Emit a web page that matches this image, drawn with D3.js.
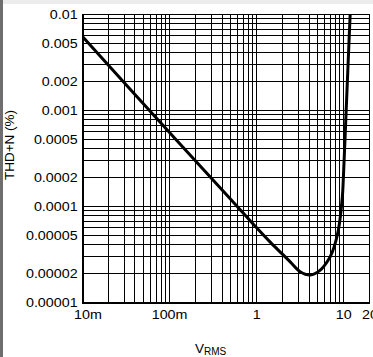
<!DOCTYPE html>
<html>
<head>
<meta charset="utf-8">
<script src="https://cdn.jsdelivr.net/npm/d3@7"></script>
<style>
  html, body { margin: 0; padding: 0; background: #fff; }
  svg { display: block; }
  text { font-family: Arial, "Liberation Sans", sans-serif; fill: #000; }
</style>
</head>
<body>
<script>
// ---- data ----
const xTickValues = [0.01, 0.1, 1, 10, 20];
const xTickLabels = ["10m", "100m", "1", "10", "20"];
const yTickValues = [0.01, 0.005, 0.002, 0.001, 0.0005, 0.0002, 0.0001, 0.00005, 0.00002, 0.00001];
const yTickLabels = ["0.01", "0.005", "0.002", "0.001", "0.0005", "0.0002", "0.0001", "0.00005", "0.00002", "0.00001"];
const vrms = [0.01, 0.1, 0.5, 1.0, 1.45, 2.0, 2.46, 3.2, 4.18, 5.44, 6.73, 7.48, 8.77, 9.75, 10, 10.8, 11.4, 12];
const thdn = [0.0059, 0.00059, 0.00012, 0.00006, 0.000042, 0.0000315, 0.0000262, 0.0000207, 0.0000191, 0.0000215, 0.0000274, 0.0000332, 0.000056, 0.000124, 0.000187, 0.001, 0.0033, 0.01];
const yTitle = "THD+N (%)";

// ---- layout ----
const W = 373, H = 357;
const L = 82, R = 369.5, T = 14, B = 302;

const svg = d3.select("body").append("svg").attr("width", W).attr("height", H);
svg.append("rect").attr("x", 0).attr("y", 0).attr("width", W).attr("height", H).attr("fill", "#fff");
svg.append("rect").attr("x", 0).attr("y", 0).attr("width", W).attr("height", 4).attr("fill", "#ececec");
svg.append("rect").attr("x", 0).attr("y", 0).attr("width", 3).attr("height", H).attr("fill", "#6e6e6e");

const x = d3.scaleLog().domain([0.01, 20]).range([L, R]);
const y = d3.scaleLog().domain([0.00001, 0.01]).range([B, T]);

// grid
const xGrid = [];
[0.01, 0.1, 1].forEach(d => { for (let k = 1; k <= 9; k++) xGrid.push(d * k); });
xGrid.push(10);
const yGrid = [];
[0.00001, 0.0001, 0.001].forEach(d => { for (let k = 1; k <= 9; k++) yGrid.push(d * k); });
yGrid.push(0.01);

const g = svg.append("g").attr("shape-rendering", "crispEdges");
g.selectAll("line.vx").data(xGrid).join("line")
  .attr("x1", d => Math.round(x(d)) + 0.5).attr("x2", d => Math.round(x(d)) + 0.5)
  .attr("y1", T).attr("y2", B)
  .attr("stroke", "#000").attr("stroke-width", 1);
g.selectAll("line.hy").data(yGrid).join("line")
  .attr("y1", d => Math.round(y(d)) + 0.5).attr("y2", d => Math.round(y(d)) + 0.5)
  .attr("x1", L).attr("x2", R)
  .attr("stroke", "#000").attr("stroke-width", 1);
g.append("rect").attr("x", L + 0.5).attr("y", T + 0.5).attr("width", R - L - 1).attr("height", B - T)
  .attr("fill", "none").attr("stroke", "#000").attr("stroke-width", 1);
g.append("line").attr("x1", L).attr("x2", R).attr("y1", B + 0.5).attr("y2", B + 0.5).attr("stroke", "#000").attr("stroke-width", 2);
g.append("line").attr("x1", L + 0.5).attr("x2", L + 0.5).attr("y1", T).attr("y2", B + 1).attr("stroke", "#000").attr("stroke-width", 2);

// axes (labels only)
const xAxis = d3.axisBottom(x).tickValues(xTickValues)
  .tickFormat((d, i) => xTickLabels[i]).tickSize(0).tickPadding(0);
const gx = svg.append("g").attr("transform", `translate(0,${B})`).call(xAxis);
gx.select(".domain").remove();
gx.selectAll("text").attr("font-size", "13px").attr("font-family", "Arial, 'Liberation Sans', sans-serif")
  .attr("dy", null).attr("y", 17).attr("dominant-baseline", "auto")
  .attr("x", (d, i) => i === 0 ? 5 : 0)
  .attr("transform", "scale(1.1,1)");

const yAxis = d3.axisLeft(y).tickValues(yTickValues)
  .tickFormat((d, i) => yTickLabels[i]).tickSize(0).tickPadding(4);
const gy = svg.append("g").attr("transform", `translate(${L},0)`).call(yAxis);
gy.select(".domain").remove();
gy.selectAll("text").attr("font-size", "13px").attr("font-family", "Arial, 'Liberation Sans', sans-serif")
  .attr("transform", "scale(1.1,1)");

// titles
svg.append("text").attr("transform", "translate(14,145) rotate(-90)")
  .attr("text-anchor", "middle").attr("font-size", "13.5px").text(yTitle);
const xt = svg.append("text").attr("x", 195).attr("y", 353).attr("font-size", "13.5px");
xt.append("tspan").text("V");
xt.append("tspan").attr("font-size", "10px").attr("dy", 2).text("RMS");

// curve
const line = d3.line().x((d, i) => x(vrms[i])).y((d, i) => y(thdn[i])).curve(d3.curveCatmullRom.alpha(0.5));
svg.append("defs").append("clipPath").attr("id", "clip").append("rect")
  .attr("x", L).attr("y", T).attr("width", R - L).attr("height", B - T);
svg.append("path").datum(thdn).attr("d", line).attr("clip-path", "url(#clip)")
  .attr("fill", "none").attr("stroke", "#000").attr("stroke-width", 3).attr("stroke-linejoin", "round");
</script>
</body>
</html>
